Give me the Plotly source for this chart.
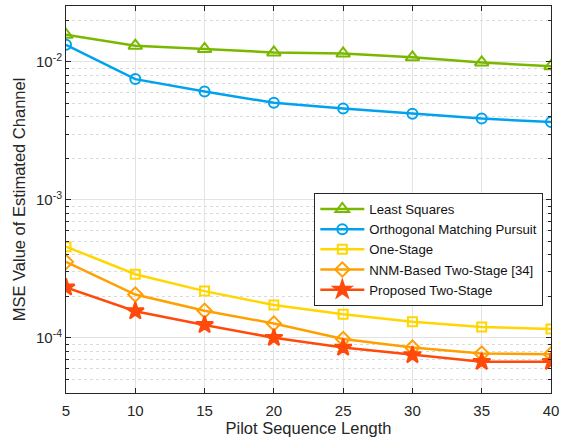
import plotly.graph_objects as go

# Pilot sequence lengths (x axis)
pilot_length = [5, 10, 15, 20, 25, 30, 35, 40]

# MSE of the estimated channel for each method
mse_ls = [0.0157, 0.0131, 0.0124, 0.0117, 0.0115, 0.0108, 0.0099, 0.0093]
mse_omp = [0.0133, 0.0075, 0.0061, 0.00505, 0.0046, 0.0042, 0.00388, 0.00366]
mse_one_stage = [4.58e-4, 2.89e-4, 2.18e-4, 1.73e-4, 1.48e-4, 1.31e-4, 1.20e-4, 1.16e-4]
mse_nnm = [3.55e-4, 2.06e-4, 1.57e-4, 1.27e-4, 9.8e-5, 8.5e-5, 7.7e-5, 7.6e-5]
mse_proposed = [2.32e-4, 1.56e-4, 1.24e-4, 1.0e-4, 8.5e-5, 7.5e-5, 6.7e-5, 6.7e-5]

series_names = [
    "Least Squares",
    "Orthogonal Matching Pursuit",
    "One-Stage",
    "NNM-Based Two-Stage [34]",
    "Proposed Two-Stage",
]

y_tick_vals = [1e-4, 1e-3, 1e-2]
y_tick_text = ["10<sup>-4</sup>", "10<sup>-3</sup>", "10<sup>-2</sup>"]

styles = [
    dict(color="#7AB800", symbol="triangle-up-open", size=12),
    dict(color="#00A2EE", symbol="circle-open", size=10),
    dict(color="#FFD600", symbol="square-open", size=9),
    dict(color="#FFA000", symbol="diamond-open", size=11),
    dict(color="#FF4A0A", symbol="star", size=13),
]

fig = go.Figure()
for name, values, st in zip(
    series_names,
    [mse_ls, mse_omp, mse_one_stage, mse_nnm, mse_proposed],
    styles,
):
    fig.add_trace(
        go.Scatter(
            x=pilot_length,
            y=values,
            name=name,
            mode="lines+markers",
            line=dict(color=st["color"], width=2.5),
            marker=dict(
                symbol=st["symbol"],
                size=st["size"],
                color=st["color"],
                line=dict(color=st["color"], width=2),
            ),
        )
    )

axis_color = "#262626"
font_family = "Liberation Sans, Arial, sans-serif"

fig.update_layout(
    width=564,
    height=444,
    margin=dict(l=66, r=7, t=5, b=51),
    paper_bgcolor="white",
    plot_bgcolor="white",
    font=dict(family=font_family, size=15, color=axis_color),
    showlegend=True,
    legend=dict(
        x=0.512,
        y=0.517,
        xanchor="left",
        yanchor="top",
        bgcolor="white",
        bordercolor=axis_color,
        borderwidth=1,
        itemwidth=44,
        font=dict(family=font_family, size=13.2, color="#111111"),
        tracegroupgap=0,
    ),
)

fig.update_xaxes(
    range=[5, 40],
    tickvals=pilot_length,
    ticks="inside",
    ticklen=5,
    tickcolor=axis_color,
    showline=True,
    linecolor=axis_color,
    linewidth=1,
    mirror="ticks",
    showgrid=True,
    gridcolor="#e3e3e3",
    gridwidth=1,
    zeroline=False,
    ticklabeloverflow="allow",
    ticklabelstandoff=4,
    tickfont=dict(size=15, color=axis_color),
    title=dict(text="Pilot Sequence Length", font=dict(size=16.5, color=axis_color), standoff=4),
)

fig.update_yaxes(
    type="log",
    range=[-4.4, -1.595],
    tickvals=y_tick_vals,
    ticktext=y_tick_text,
    ticks="inside",
    ticklen=5,
    tickcolor=axis_color,
    showline=True,
    linecolor=axis_color,
    linewidth=1,
    mirror="ticks",
    showgrid=True,
    gridcolor="#e3e3e3",
    gridwidth=1,
    zeroline=False,
    ticklabeloverflow="allow",
    tickfont=dict(size=15, color=axis_color),
    minor=dict(
        tickvals=[m * 10.0 ** e for e in (-5, -4, -3, -2) for m in range(2, 10)],
        ticks="inside",
        ticklen=3,
        tickcolor=axis_color,
        showgrid=True,
        gridcolor="#dadada",
        griddash="dot",
        gridwidth=1,
    ),
    title=dict(text="MSE Value of Estimated Channel", font=dict(size=16.5, color=axis_color), standoff=6),
)

fig.write_html("out.html")
